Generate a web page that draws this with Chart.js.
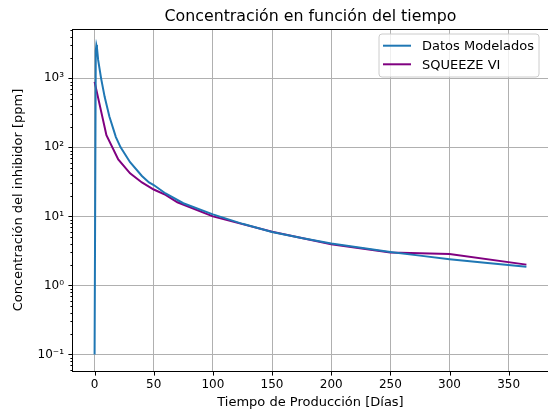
<!DOCTYPE html>
<html>
<head>
<meta charset="utf-8">
<script src="https://cdn.jsdelivr.net/npm/chart.js@4/dist/chart.umd.min.js"></script>
<style>
  html, body { margin: 0; padding: 0; background: #ffffff; }
  canvas { display: block; }
</style>
</head>
<body>
<canvas id="c" width="548" height="413"></canvas>
<script>
// Modelled inhibitor concentration (days, ppm)
const modeladoDias = [0, 1, 1.5, 2, 3, 5.5, 8.5, 12.5, 18, 22, 30, 40, 46, 50, 60, 75, 100, 125, 150, 175, 200, 225, 250, 275, 300, 330, 365];
const modeladoPpm  = [0.1, 2500, 3050, 2800, 1850, 1000, 540, 280, 141, 100, 61, 38.5, 31, 28.5, 21.5, 15.5, 10.7, 7.8, 5.95, 4.85, 4.05, 3.5, 3.05, 2.7, 2.4, 2.13, 1.87];

// SQUEEZE VI simulation (days, ppm)
const squeezeDias = [0, 10, 20, 30, 40, 50, 60, 70, 100, 150, 200, 250, 300, 365];
const squeezePpm  = [890, 150, 67, 42, 31, 24.5, 20.5, 16, 10, 6.0, 3.95, 3.0, 2.85, 2.0];

const xTicks = [0, 50, 100, 150, 200, 250, 300, 350];
const yDecades = [-1, 0, 1, 2, 3];

const seriesNames = ['Datos Modelados', 'SQUEEZE VI'];
const seriesColors = ['#1f77b4', '#800080'];

const FONT = "'DejaVu Sans', sans-serif";
const SUP = { '-': '\u207B', '0': '\u2070', '1': '\u00B9', '2': '\u00B2', '3': '\u00B3', '4': '\u2074' };

function isDecade(v) {
  const e = Math.log10(v);
  return Math.abs(e - Math.round(e)) < 1e-9;
}
function decadeLabel(v) {
  const e = String(Math.round(Math.log10(v)));
  return '10' + e.split('').map(ch => SUP[ch]).join('');
}
function toPoints(xs, ys) {
  return xs.map((x, i) => ({ x: x, y: ys[i] }));
}

// Axis frame, tick marks, title and legend box drawn on top of the plot
const framePlugin = {
  id: 'frame',
  afterDraw(chart) {
    const { ctx, chartArea: a, scales } = chart;
    ctx.save();
    ctx.strokeStyle = '#000000';
    ctx.lineWidth = 1;

    // tick marks
    ctx.beginPath();
    scales.x.ticks.forEach(t => {
      const px = Math.round(scales.x.getPixelForValue(t.value)) + 0.5;
      ctx.moveTo(px, a.bottom);
      ctx.lineTo(px, a.bottom + 4.6);
    });
    scales.y.ticks.forEach(t => {
      const py = Math.round(scales.y.getPixelForValue(t.value)) + 0.5;
      const len = isDecade(t.value) ? 4.6 : 2.6;
      ctx.moveTo(a.left, py);
      ctx.lineTo(a.left - len, py);
    });
    ctx.stroke();

    // spines
    ctx.strokeRect(Math.round(a.left) - 0.5, Math.round(a.top) + 0.5,
                   Math.round(a.right - a.left) + 1, Math.round(a.bottom - a.top));

    // title
    ctx.fillStyle = '#000000';
    ctx.font = '15.8px ' + FONT;
    ctx.textAlign = 'center';
    ctx.textBaseline = 'alphabetic';
    ctx.fillText('Concentración en función del tiempo', (a.left + a.right) / 2, a.top - 8);

    // legend
    const bx = a.right - 169, by = a.top + 5, bw = 160, bh = 43, r = 3;
    ctx.beginPath();
    ctx.moveTo(bx + r, by);
    ctx.lineTo(bx + bw - r, by);
    ctx.arcTo(bx + bw, by, bx + bw, by + r, r);
    ctx.lineTo(bx + bw, by + bh - r);
    ctx.arcTo(bx + bw, by + bh, bx + bw - r, by + bh, r);
    ctx.lineTo(bx + r, by + bh);
    ctx.arcTo(bx, by + bh, bx, by + bh - r, r);
    ctx.lineTo(bx, by + r);
    ctx.arcTo(bx, by, bx + r, by, r);
    ctx.closePath();
    ctx.fillStyle = 'rgba(255,255,255,0.8)';
    ctx.fill();
    ctx.strokeStyle = '#cccccc';
    ctx.stroke();

    ctx.font = '13px ' + FONT;
    ctx.textAlign = 'left';
    ctx.textBaseline = 'middle';
    chart.data.datasets.forEach((ds, i) => {
      const ly = by + 11.7 + i * 18.6;
      ctx.strokeStyle = ds.borderColor;
      ctx.lineWidth = 2;
      ctx.beginPath();
      ctx.moveTo(bx + 4, ly);
      ctx.lineTo(bx + 32, ly);
      ctx.stroke();
      ctx.fillStyle = '#000000';
      ctx.fillText(ds.label, bx + 43, ly + 1);
    });
    ctx.restore();
  }
};

new Chart(document.getElementById('c'), {
  type: 'line',
  data: {
    datasets: [
      {
        label: seriesNames[0],
        data: toPoints(modeladoDias, modeladoPpm),
        borderColor: seriesColors[0],
        backgroundColor: seriesColors[0],
        borderWidth: 2,
        pointRadius: 0,
        tension: 0,
        fill: false
      },
      {
        label: seriesNames[1],
        data: toPoints(squeezeDias, squeezePpm),
        borderColor: seriesColors[1],
        backgroundColor: seriesColors[1],
        borderWidth: 2,
        pointRadius: 0,
        tension: 0,
        fill: false
      }
    ]
  },
  options: {
    responsive: false,
    devicePixelRatio: 1,
    animation: false,
    layout: { padding: { left: 0, top: 29, right: -3, bottom: 0 } },
    plugins: {
      legend: { display: false },
      title: { display: false },
      tooltip: { enabled: false }
    },
    scales: {
      x: {
        type: 'linear',
        min: -18.25,
        max: 383.25,
        afterBuildTicks(scale) {
          scale.ticks = xTicks.map(v => ({ value: v }));
        },
        afterFit(scale) { scale.height = 42; },
        border: { display: false },
        grid: { color: '#b0b0b0', lineWidth: 1, drawTicks: false },
        ticks: {
          autoSkip: false,
          maxRotation: 0,
          padding: 7,
          color: '#000000',
          font: { family: FONT, size: 12 },
          callback: v => String(v)
        },
        title: {
          display: true,
          text: 'Tiempo de Producción [Días]',
          color: '#000000',
          font: { family: FONT, size: 13 },
          padding: { top: 0, bottom: 2.5 }
        }
      },
      y: {
        type: 'logarithmic',
        min: 0.0575,
        max: 5190,
        afterBuildTicks(scale) {
          const t = [];
          for (let e = -2; e <= 4; e++) {
            for (let m = 1; m <= 9; m++) {
              const v = m * Math.pow(10, e);
              if (v >= scale.min && v <= scale.max) t.push({ value: v });
            }
          }
          scale.ticks = t;
        },
        afterFit(scale) { scale.width = 73; },
        border: { display: false },
        grid: {
          lineWidth: 1,
          drawTicks: false,
          color: ctx => (ctx.tick && isDecade(ctx.tick.value) && yDecades.includes(Math.round(Math.log10(ctx.tick.value)))) ? '#b0b0b0' : 'rgba(0,0,0,0)'
        },
        ticks: {
          autoSkip: false,
          padding: 9,
          color: '#000000',
          font: { family: FONT, size: 12 },
          callback: v => isDecade(v) ? decadeLabel(v) : ''
        },
        title: {
          display: true,
          text: 'Concentración del inhibidor [ppm]',
          color: '#000000',
          font: { family: FONT, size: 13 },
          padding: { top: 10.5, bottom: 0 }
        }
      }
    }
  },
  plugins: [framePlugin]
});
</script>
</body>
</html>
